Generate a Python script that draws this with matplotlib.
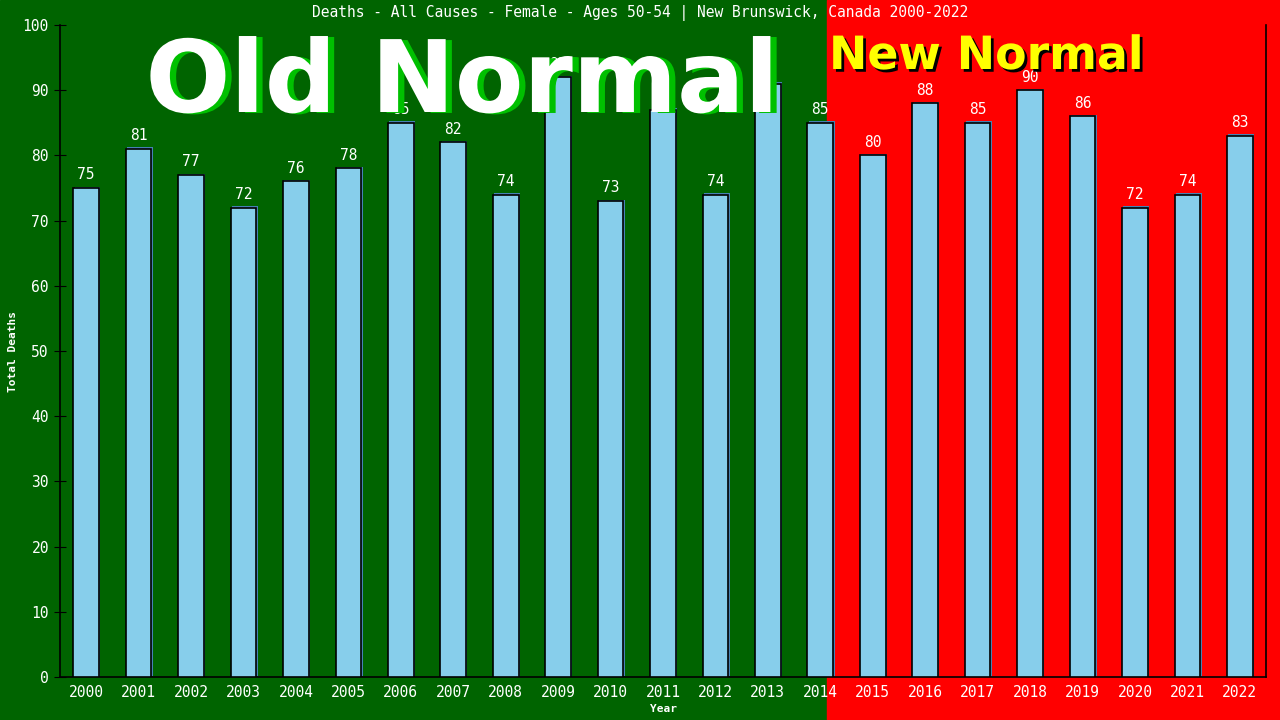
import matplotlib
matplotlib.use("Agg")
import matplotlib.pyplot as plt
import matplotlib.patheffects as pe
from matplotlib.patches import Rectangle

years = [str(y) for y in range(2000, 2023)]
deaths = [75, 81, 77, 72, 76, 78, 85, 82, 74, 92, 73, 87, 74, 91, 85, 80, 88, 85, 90, 86, 72, 74, 83]
yticks = list(range(0, 101, 10))
title = "Deaths - All Causes - Female - Ages 50-54 | New Brunswick, Canada 2000-2022"

mono = "DejaVu Sans Mono"
fig = plt.figure(figsize=(12.8, 7.2), dpi=100)
split = 827 / 1280
fig.patches.append(Rectangle((0, 0), split, 1, transform=fig.transFigure, color="#006400", zorder=-10))
fig.patches.append(Rectangle((split, 0), 1 - split, 1, transform=fig.transFigure, color="#ff0000", zorder=-10))

ax = fig.add_axes([60 / 1280, 1 - 677 / 720, (1266 - 60) / 1280, (677 - 25) / 720])
ax.set_facecolor("none")

x = list(range(len(years)))
bars = ax.bar(x, deaths, width=0.49, color="#87ceeb", edgecolor="black", linewidth=1.2, zorder=5)
for b in bars:
    b.set_path_effects([pe.SimplePatchShadow(offset=(1, 1), shadow_rgbFace="#4682b4", alpha=1), pe.Normal()])

for xi, v in zip(x, deaths):
    ax.annotate(str(v), (xi, v), xytext=(0, 4), textcoords="offset points", ha="center", va="bottom",
                color="white", fontsize=10.5, family=mono, zorder=3)

ax.set_xlim(-0.5, 22.5)
ax.set_ylim(0, 100)
ax.set_yticks(yticks)
ax.set_xticks(x)
ax.set_xticklabels(years)
ax.tick_params(axis="y", direction="inout", length=8, color="black", labelcolor="white", labelsize=10.5, pad=4)
ax.tick_params(axis="x", length=0, labelcolor="white", labelsize=10.5, pad=6)
for lab in ax.get_xticklabels() + ax.get_yticklabels():
    lab.set_family(mono)
ax.spines["top"].set_visible(False)
for s in ["left", "bottom", "right"]:
    ax.spines[s].set_color("black")
    ax.spines[s].set_linewidth(1.2)

fig.text(0.5, 1 - 13 / 720, title, ha="center", va="center", color="white", fontsize=10.5, family=mono)
fig.text(13 / 1280, 1 - 351 / 720, "Total Deaths", rotation=90, ha="center", va="center", color="white",
         fontsize=8, family=mono, fontweight="bold")
fig.text((60 + 1266) / 2 / 1280, 1 - 709 / 720, "Year", ha="center", va="center", color="white",
         fontsize=8, family=mono, fontweight="bold")

fig.text(462 / 1280, 1 - 112 / 720, "Old Normal", ha="center", va="baseline", color="white",
         fontsize=72, fontweight="bold", family="DejaVu Sans", zorder=4,
         path_effects=[pe.SimplePatchShadow(offset=(4.5, -0.7), shadow_rgbFace="#00c000", alpha=1), pe.Normal()])
fig.text(829 / 1280, 1 - 69 / 720, "New Normal", ha="left", va="baseline", color="#ffff00",
         fontsize=33, fontweight="bold", family="DejaVu Sans", zorder=4,
         path_effects=[pe.SimplePatchShadow(offset=(2, -2), shadow_rgbFace="black", alpha=1), pe.Normal()])

fig.savefig("out.png", dpi=100)
